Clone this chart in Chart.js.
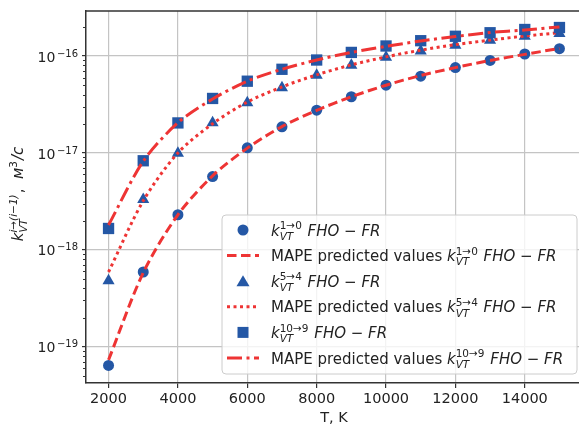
<!DOCTYPE html>
<html>
<head>
<meta charset="utf-8">
<script src="https://cdn.jsdelivr.net/npm/chart.js@4"></script>
<style>
  html, body { margin: 0; padding: 0; overflow: hidden; background: #fff; }
</style>
</head>
<body>
<canvas id="myChart" width="590" height="430"></canvas>
<script>
// temperatures, K
var temps = [2000,3000,4000,5000,6000,7000,8000,9000,10000,11000,12000,13000,14000,15000];
var xTicks = [2000,4000,6000,8000,10000,12000,14000];

// k_VT 1->0 : FHO-FR and MAPE predicted
var fho10  = [6.4e-20,5.9e-19,2.3e-18,5.7e-18,1.13e-17,1.86e-17,2.76e-17,3.8e-17,5.0e-17,6.2e-17,7.6e-17,9.0e-17,1.05e-16,1.19e-16];
var mape10 = [7.3e-20,5.8e-19,2.3e-18,5.8e-18,1.12e-17,1.87e-17,2.75e-17,3.8e-17,5.0e-17,6.3e-17,7.6e-17,9.0e-17,1.04e-16,1.2e-16];
// k_VT 5->4
var fho54  = [4.8e-19,3.3e-18,9.9e-18,2.05e-17,3.3e-17,4.7e-17,6.35e-17,8.05e-17,9.7e-17,1.13e-16,1.29e-16,1.46e-16,1.6e-16,1.71e-16];
var mape54 = [5.9e-19,3.2e-18,1.0e-17,2.0e-17,3.35e-17,4.8e-17,6.4e-17,8.1e-17,9.8e-17,1.15e-16,1.31e-16,1.46e-16,1.61e-16,1.74e-16];
// k_VT 10->9
var fho109  = [1.66e-18,8.3e-18,2.04e-17,3.65e-17,5.5e-17,7.3e-17,9.1e-17,1.09e-16,1.27e-16,1.44e-16,1.6e-16,1.74e-16,1.88e-16,1.97e-16];
var mape109 = [1.8e-18,8.2e-18,2.05e-17,3.6e-17,5.5e-17,7.3e-17,9.1e-17,1.09e-16,1.26e-16,1.43e-16,1.59e-16,1.75e-16,1.86e-16,2.0e-16];

var transitions = ['1→0', '5→4', '10→9'];

var blue = '#2457a5';
var red = '#ee3434';
var FONT = '"DejaVu Sans"';

function pts(ys) {
  return temps.map(function (t, i) { return {x: t, y: ys[i]}; });
}
function isDecade(v) {
  var e = Math.log10(v);
  return Math.abs(e - Math.round(e)) < 1e-6;
}

// rich text: plain parts and k-like sub/sup pairs
function drawMath(ctx, x, y, items, S, dry) {
  items.forEach(function (it) {
    if (it.sup !== undefined) {
      var s = S * 0.7;
      var w1 = 0, w2;
      if (it.sub) {
        ctx.font = 'italic ' + s + 'px ' + FONT;
        w1 = ctx.measureText(it.sub).width;
        if (!dry) ctx.fillText(it.sub, x, y + S * 0.28);
      }
      ctx.font = (it.supIt ? 'italic ' : '') + s + 'px ' + FONT;
      w2 = ctx.measureText(it.sup).width;
      if (!dry) ctx.fillText(it.sup, x, y - S * 0.42);
      x += Math.max(w1, w2) + 1;
    } else {
      ctx.font = (it.it ? 'italic ' : '') + S + 'px ' + FONT;
      if (!dry) ctx.fillText(it.t, x, y);
      x += ctx.measureText(it.t).width;
    }
  });
  return x;
}
function kTerm(tr) {
  return [{t: 'k', it: true}, {sub: 'VT', sup: tr}, {t: ' FHO − FR', it: true}];
}

var extras = {
  id: 'extras',
  afterDraw: function (chart) {
    var ctx = chart.ctx;
    var area = chart.chartArea;
    var yScale = chart.scales.y;
    ctx.save();

    // top spine
    ctx.strokeStyle = '#333';
    ctx.lineWidth = 1.5;
    ctx.beginPath();
    ctx.moveTo(area.left, area.top);
    ctx.lineTo(area.right, area.top);
    ctx.lineTo(area.right, area.bottom);
    ctx.stroke();

    // minor ticks and decade labels on the log axis
    ctx.lineWidth = 1;
    ctx.fillStyle = '#222';
    ctx.textBaseline = 'alphabetic';
    yScale.ticks.forEach(function (t) {
      var py = yScale.getPixelForValue(t.value);
      if (isDecade(t.value)) {
        var ex = '−' + String(-Math.round(Math.log10(t.value)));
        ctx.font = '10px ' + FONT;
        var ws = ctx.measureText(ex).width;
        ctx.font = '14px ' + FONT;
        var wb = ctx.measureText('10').width;
        var x0 = 78 - ws - wb - 1.5;
        ctx.fillText('10', x0, py + 5.7);
        ctx.font = '10px ' + FONT;
        ctx.fillText(ex, x0 + wb + 1.5, py + 0.7);
        return;
      }
      var ry = Math.round(py) + 0.5;
      ctx.beginPath();
      ctx.moveTo(area.left - 3, ry);
      ctx.lineTo(area.left, ry);
      ctx.stroke();
    });

    // y axis title
    var yItems = [{t: 'k', it: true}, {sub: 'VT', sup: 'i→(i−1)', supIt: true}, {t: ',  '},
                  {t: 'м', it: true}, {sub: '', sup: '3'}, {t: '/с', it: true}];
    var S = 15;
    var w = drawMath(ctx, 0, 0, yItems, S, true);
    ctx.save();
    ctx.translate(18, 194);
    ctx.rotate(-Math.PI / 2);
    drawMath(ctx, -w / 2, 5, yItems, S, false);
    ctx.restore();

    // legend
    var lx = 222, ly = 215, lw = 355, lh = 159;
    ctx.beginPath();
    ctx.roundRect(lx, ly, lw, lh, 4);
    ctx.fillStyle = 'rgba(255,255,255,0.8)';
    ctx.fill();
    ctx.strokeStyle = '#cccccc';
    ctx.lineWidth = 1;
    ctx.stroke();

    var LS = 15;
    chart.data.datasets.forEach(function (ds, i) {
      var cy = 230 + i * 25.6;
      var tr = transitions[Math.floor(i / 2)];
      ctx.save();
      if (ds.showLine === false) {
        ctx.fillStyle = blue;
        ctx.beginPath();
        if (ds.pointStyle === 'circle') {
          ctx.arc(243, cy, 5.5, 0, Math.PI * 2);
        } else if (ds.pointStyle === 'triangle') {
          ctx.moveTo(243, cy - 6);
          ctx.lineTo(249.5, cy + 5);
          ctx.lineTo(236.5, cy + 5);
          ctx.closePath();
        } else {
          ctx.rect(237.5, cy - 5.5, 11, 11);
        }
        ctx.fill();
      } else {
        ctx.strokeStyle = red;
        ctx.lineWidth = 3;
        ctx.setLineDash(ds.borderDash);
        ctx.beginPath();
        ctx.moveTo(227, cy);
        ctx.lineTo(259, cy);
        ctx.stroke();
      }
      ctx.restore();
      ctx.fillStyle = '#222';
      var items = kTerm(tr);
      if (ds.showLine !== false) items = [{t: 'MAPE predicted values '}].concat(items);
      drawMath(ctx, 271, cy + 5.5, items, LS, false);
    });
    ctx.restore();
  }
};

var dashA = [9.5, 4.5];
var dotA = [3, 3.5];
var dashDotA = [15, 4.5, 3, 4.5];

function pointSet(label, ys, style, r, order) {
  return {label: label, data: pts(ys), showLine: false, pointStyle: style,
          pointRadius: r, pointHoverRadius: r, backgroundColor: blue, borderColor: blue,
          pointBorderWidth: 0, order: order};
}
function lineSet(label, ys, dash, order) {
  return {label: label, data: pts(ys), borderColor: red, borderWidth: 3, borderDash: dash,
          pointRadius: 0, fill: false, tension: 0.3, order: order};
}

var ctx = document.getElementById('myChart');
var myChart = new Chart(ctx, {
  type: 'line',
  data: {
    datasets: [
      pointSet('k 1→0 FHO−FR', fho10, 'circle', 5.5, 6),
      lineSet('MAPE predicted values k 1→0 FHO−FR', mape10, dashA, 5),
      pointSet('k 5→4 FHO−FR', fho54, 'triangle', 7, 4),
      lineSet('MAPE predicted values k 5→4 FHO−FR', mape54, dotA, 3),
      pointSet('k 10→9 FHO−FR', fho109, 'rect', 8, 2),
      lineSet('MAPE predicted values k 10→9 FHO−FR', mape109, dashDotA, 1)
    ]
  },
  options: {
    responsive: false,
    animation: false,
    devicePixelRatio: 1,
    layout: {padding: {top: 11, right: 7, left: 0, bottom: 0}},
    plugins: {legend: {display: false}, tooltip: {enabled: false}},
    scales: {
      x: {
        type: 'linear',
        min: 1350,
        max: 15650,
        afterBuildTicks: function (axis) {
          axis.ticks = xTicks.map(function (v) { return {value: v}; });
        },
        afterFit: function (axis) { axis.height = 47; },
        grid: {color: '#c4c4c4', lineWidth: 1.2, tickLength: 5, tickColor: '#333'},
        border: {color: '#333', width: 1.5},
        ticks: {color: '#222', font: {family: FONT, size: 14.5}, padding: 3, maxRotation: 0,
                callback: function (v) { return String(v); }},
        title: {display: true, text: 'T, K', color: '#222', font: {family: FONT, size: 14.5},
                padding: {top: 0, bottom: 3}}
      },
      y: {
        type: 'logarithmic',
        min: Math.pow(10, -19.375),
        max: Math.pow(10, -15.535),
        afterBuildTicks: function (axis) {
          var t = [];
          for (var e = -20; e <= -16; e++) {
            for (var m = 1; m <= 9; m++) {
              var v = m * Math.pow(10, e);
              if (v >= axis.min && v <= axis.max) t.push({value: v});
            }
          }
          axis.ticks = t;
        },
        afterFit: function (axis) { axis.width = 86; },
        grid: {
          color: function (c) { return c.tick && isDecade(c.tick.value) ? '#c4c4c4' : 'rgba(0,0,0,0)'; },
          tickColor: function (c) { return c.tick && isDecade(c.tick.value) ? '#333' : 'rgba(0,0,0,0)'; },
          lineWidth: 1.2,
          tickLength: 4
        },
        border: {color: '#333', width: 1.5},
        ticks: {display: false, autoSkip: false}
      }
    }
  },
  plugins: [extras]
});
</script>
</body>
</html>
